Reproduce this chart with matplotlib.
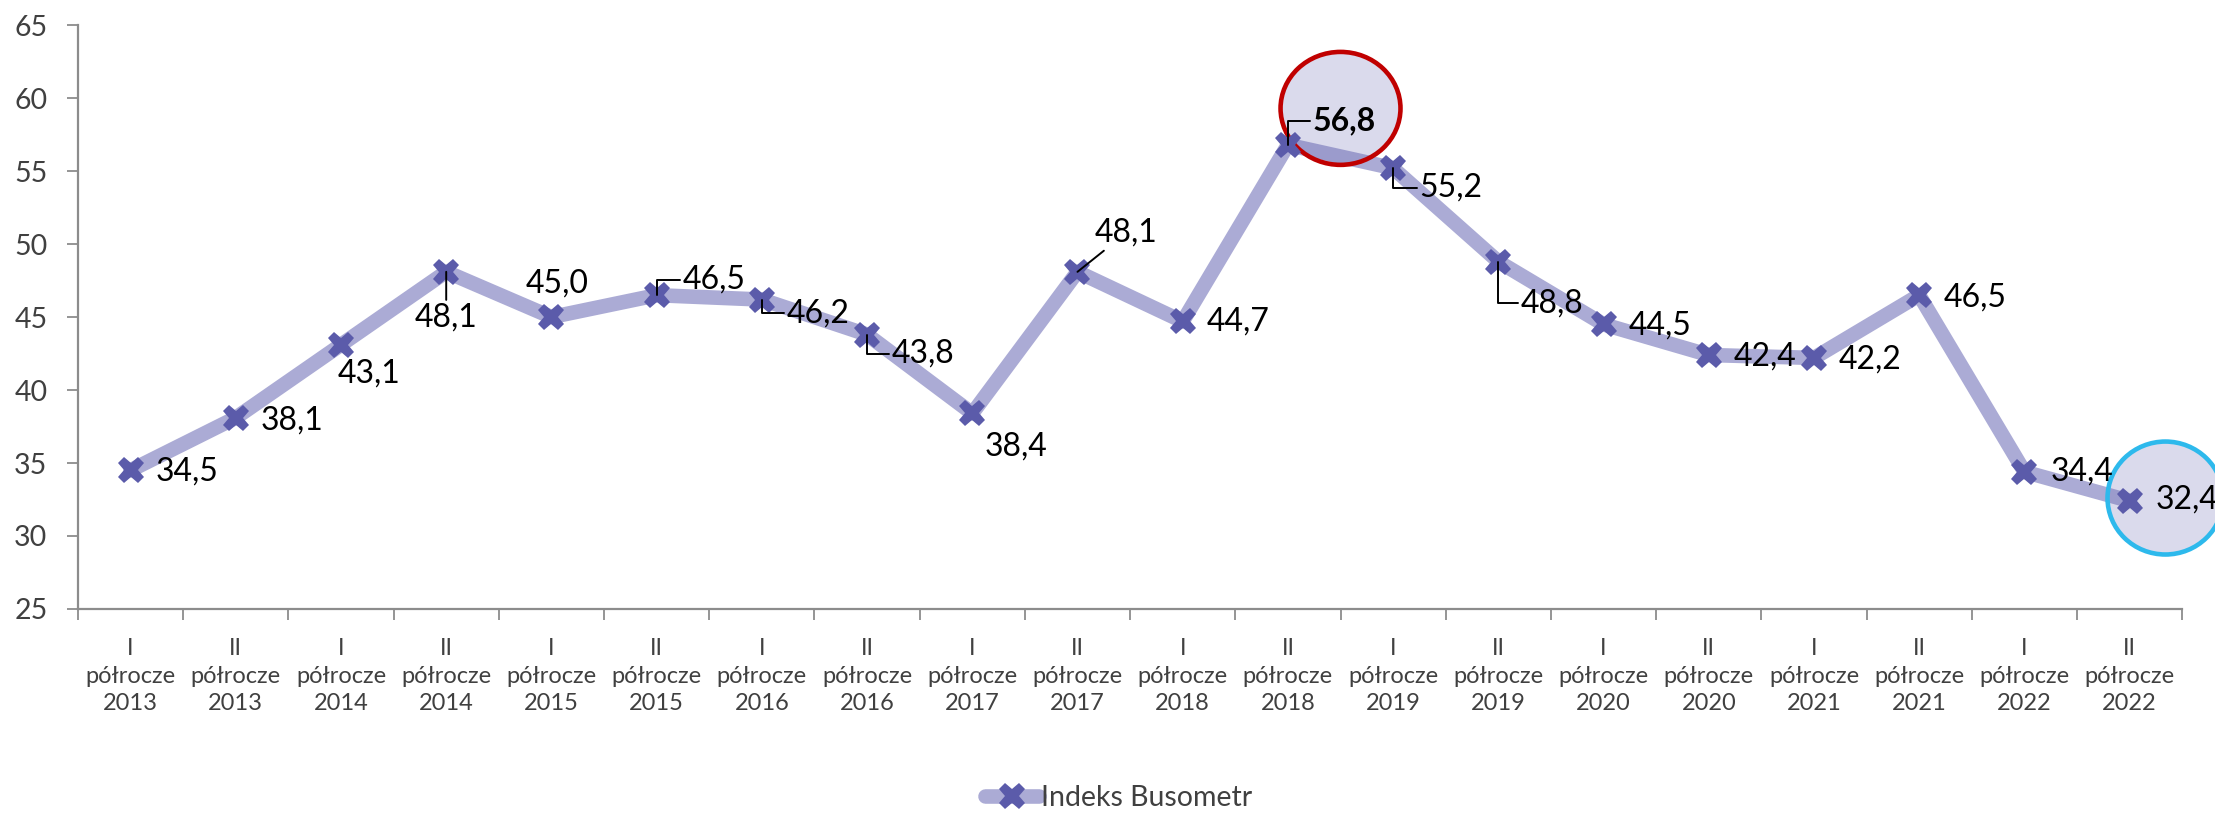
import matplotlib
matplotlib.use('Agg')
import matplotlib.pyplot as plt
from matplotlib.patches import Ellipse
import numpy as np

# data: Indeks Busometr, half-years 2013-2022
halves = ['I', 'II'] * 10
years = [2013, 2013, 2014, 2014, 2015, 2015, 2016, 2016, 2017, 2017,
         2018, 2018, 2019, 2019, 2020, 2020, 2021, 2021, 2022, 2022]
values = [34.5, 38.1, 43.1, 48.1, 45.0, 46.5, 46.2, 43.8, 38.4, 48.1,
          44.7, 56.8, 55.2, 48.8, 44.5, 42.4, 42.2, 46.5, 34.4, 32.4]
series_name = 'Indeks Busometr'

categories = [f'{h}\npółrocze\n{y}' for h, y in zip(halves, years)]
x = np.arange(len(values))

plt.rcParams['font.family'] = ['Lato', 'DejaVu Sans']

line_col = '#ABABD5'
mark_col = '#5B5BAA'
axis_col = '#8C8C8C'
text_col = '#404040'

fig = plt.figure(figsize=(22.15, 8.13), dpi=100)
ax = fig.add_axes([0.0352, 0.251, 0.9500, 0.718])

ax.plot(x, values, color=line_col, linewidth=10.5, solid_joinstyle='round',
        solid_capstyle='round', zorder=2)
ax.plot(x, values, linestyle='none', marker='X', markersize=19,
        color=mark_col, markeredgewidth=0, zorder=4, label=series_name)

# label placement (offset points, alignment, leader style)
label_style = [
    (18, -1, 'left', None), (18, -2, 'left', None), (20, -21, 'center', None),
    (0, -33, 'center', 'arc3'), (4, 24, 'center', None), (19, 11, 'left', 'angle'),
    (18, -10, 'left', 'angle'), (18, -14, 'left', 'angle'), (9, -24, 'left', None),
    (35, 28, 'center', 'arc3'), (17, 0, 'left', None), (18, 17, 'left', 'angle'),
    (19, -14, 'left', 'angle'), (16, -30, 'left', 'angle'), (18, -1, 'left', None),
    (18, -1, 'left', None), (18, -1, 'left', None), (18, -2, 'left', None),
    (19, 0, 'left', None), (19, 1, 'left', None),
]
peak = int(np.argmax(values))

for i, (v, (dx, dy, ha, lead)) in enumerate(zip(values, label_style)):
    txt = f'{v:.1f}'.replace('.', ',')
    kw = {}
    if lead == 'angle':
        kw['arrowprops'] = dict(arrowstyle='-', color='black', lw=1.4, shrinkA=0, shrinkB=0,
                                connectionstyle='angle,angleA=0,angleB=90,rad=0')
    elif lead == 'arc3':
        kw['arrowprops'] = dict(arrowstyle='-', color='black', lw=1.4, shrinkA=0, shrinkB=0)
    ax.annotate(txt, (x[i], v), xytext=(dx, dy), textcoords='offset points',
                ha=ha, va='center', fontsize=23, color='black',
                fontweight='bold' if i == peak else 'normal', zorder=6, **kw)

# highlight circles around the peak and the last value
last = len(values) - 1
ax.add_patch(Ellipse((x[peak] + 0.5, values[peak] + 2.5), 1.14, 7.74,
                     facecolor=(0.43, 0.43, 0.71, 0.25), edgecolor='#C00000',
                     linewidth=3.3, zorder=3))
ax.add_patch(Ellipse((x[last] + 0.34, values[last] + 0.2), 1.1, 7.74,
                     facecolor=(0.43, 0.43, 0.71, 0.25), edgecolor='#2DB9EC',
                     linewidth=3.3, zorder=3, clip_on=False))

ax.set_xlim(-0.5, len(values) - 0.5)
ax.set_ylim(25, 65)
ax.set_yticks(np.arange(25, 66, 5))
ax.set_xticks(x)
ax.set_xticklabels(categories, fontsize=17, color=text_col, linespacing=1.38)
ax.set_xticks(np.arange(-0.5, len(values), 1), minor=True)
ax.tick_params(axis='x', which='major', length=0, pad=21)
ax.tick_params(axis='x', which='minor', length=8, width=1.3, color=axis_col, direction='out')
ax.tick_params(axis='y', length=8, width=1.3, color=axis_col, labelsize=20.5,
               labelcolor=text_col, pad=14)

for s in ['top', 'right']:
    ax.spines[s].set_visible(False)
for s in ['left', 'bottom']:
    ax.spines[s].set_color(axis_col)
    ax.spines[s].set_linewidth(1.6)

# legend handle with line + marker
h_line, = ax.plot([], [], color=line_col, linewidth=10.5, solid_capstyle='round',
                  marker='X', markersize=19, markerfacecolor=mark_col,
                  markeredgewidth=0)
fig.legend([h_line], [series_name], loc='center', bbox_to_anchor=(0.505, 0.018),
           frameon=False, fontsize=20.5, handlelength=1.9, handletextpad=0.1,
           labelcolor=text_col)

fig.savefig('out.png', dpi=100)
